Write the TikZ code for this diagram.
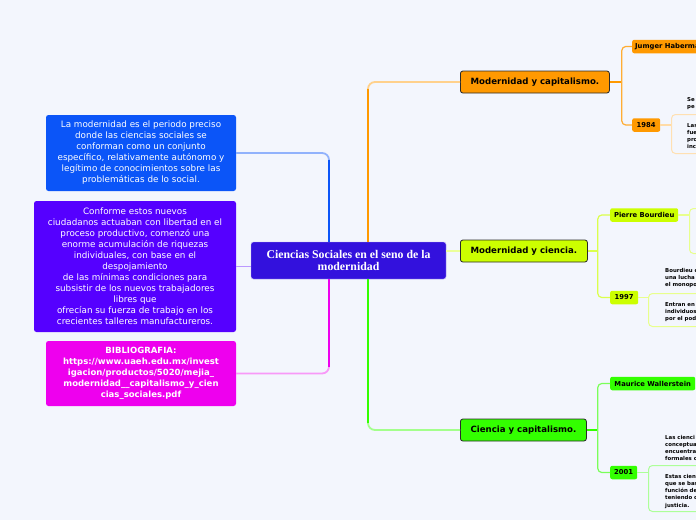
\documentclass[tikz,border=0pt]{standalone}
\usepackage{fontspec}
\setmainfont{DejaVu Sans}
\newfontfamily\titlefont{Liberation Serif}
\usepackage{tikz}
\usetikzlibrary{positioning}
\definecolor{paper}{HTML}{F3F6FD}
\definecolor{rootfill}{HTML}{3311DD}
\definecolor{bluefill}{HTML}{0B55F8}
\definecolor{violetfill}{HTML}{5500FF}
\definecolor{pinkfill}{HTML}{EE00EE}
\definecolor{orangefill}{HTML}{FF9900}
\definecolor{limefill}{HTML}{CCFF00}
\definecolor{greenfill}{HTML}{33FF00}
\definecolor{edgeink}{HTML}{2A2A2A}

\begin{document}
\begin{tikzpicture}[
  x=1pt,y=-1pt,
  root/.style={draw=rootfill!35,fill=rootfill,rounded corners=2.5pt,minimum width=195pt,minimum height=37pt,align=center,text=white,font=\titlefont\bfseries\fontsize{11.8}{11.5}\selectfont,inner sep=2pt},
  note/.style={fill=#1,rounded corners=2.5pt,align=center,text=white,font=\fontsize{8.8}{11}\selectfont,inner sep=2pt},
  topic/.style={draw=edgeink,line width=0.8pt,fill=#1,rounded corners=2.5pt,minimum height=22pt,anchor=west,font=\bfseries\fontsize{8.6}{10}\selectfont,inner xsep=4pt},
  sub/.style={fill=#1,rounded corners=2pt,minimum height=13.5pt,anchor=west,font=\bfseries\fontsize{6.8}{7}\selectfont,inner xsep=3pt},
  detail/.style={draw=#1,line width=1pt,rounded corners=4pt,anchor=north west},
  snippet/.style={anchor=north west,align=left,inner sep=0pt,font=\bfseries\fontsize{5.4}{7.2}\selectfont},
  conn/.style={draw=#1,line width=1.8pt,rounded corners=7pt},
  twig/.style={draw=#1,line width=1.2pt,rounded corners=4pt}
]
\useasboundingbox (0,0) rectangle (696,520);
\clip (0,0) rectangle (696,520);
\fill[paper] (0,0) rectangle (696,520);

% centre and the notes on the left
\node[root] (ctr) at (348.5,260.5) {Ciencias Sociales en el seno de la\\modernidad};
\node[note=bluefill,minimum width=190pt,minimum height=76pt] (nota) at (141,153) {La modernidad es el periodo preciso\\donde las ciencias sociales se\\conforman como un conjunto\\específico, relativamente autónomo y\\legítimo de conocimientos sobre las\\problemáticas de lo social.};
\node[note=violetfill,minimum width=202pt,minimum height=131pt] (notb) at (135,266.5) {Conforme estos nuevos\\ciudadanos actuaban con libertad en el\\proceso productivo, comenzó una\\enorme acumulación de riquezas\\individuales, con base en el\\despojamiento\\de las mínimas condiciones para\\subsistir de los nuevos trabajadores\\libres que\\ofrecían su fuerza de trabajo en los\\crecientes talleres manufactureros.};
\node[note=pinkfill,minimum width=190pt,minimum height=65pt,font=\bfseries\fontsize{8.5}{11}\selectfont] (biblio) at (141,373.5) {BIBLIOGRAFIA:\\https://www.uaeh.edu.mx/invest\\igacion/productos/5020/mejia\_\\modernidad\_\_capitalismo\_y\_cien\\cias\_sociales.pdf};

% main topics
\node[topic=orangefill,minimum width=149pt] (modcap) at (460,82) {Modernidad y capitalismo.};
\node[topic=limefill,minimum width=127pt] (modcien) at (460,251) {Modernidad y ciencia.};
\node[topic=greenfill,minimum width=126pt] (ciecap) at (460,430) {Ciencia y capitalismo.};

% subtopics
\node[sub=orangefill] (habermas) at (632,46.5) {Jumger Habermas};
\node[sub=orangefill,minimum width=28pt] (y1984) at (632,125) {1984};
\node[sub=limefill,minimum width=68pt] (bourdieu) at (610,215) {Pierre Bourdieu};
\node[sub=limefill,minimum width=28pt] (y1997) at (610,297.5) {1997};
\node[sub=greenfill,minimum width=85pt] (wallerstein) at (610,383.5) {Maurice Wallerstein};
\node[sub=greenfill,minimum width=27pt] (y2001) at (610,472.5) {2001};

% detail frames and their texts
\node[detail=orangefill!30,minimum width=60pt,minimum height=39pt] (d1984) at (671,114) {};
\node[detail=limefill!45,minimum width=40pt,minimum height=45pt] (dbourdieu) at (689,208) {};
\node[detail=limefill!45,minimum width=80pt,minimum height=33pt] (d1997) at (648,293) {};
\node[detail=greenfill!40,minimum width=80pt,minimum height=46pt] (d2001) at (648,465) {};
\node[snippet] (s1984a) at (687,97) {Se\\pe};
\node[snippet] (s1984b) at (687,123) {Las\\fue\\pro\\inc};
\node[snippet] (s1997a) at (665,268) {Bourdieu c\\una lucha\\el monopo};
\node[snippet] (s1997b) at (665,302) {Entran en\\individuos\\por el podi};
\node[snippet] (s2001a) at (665,435) {Las cienci\\conceptua\\encuentra\\formales c};
\node[snippet] (s2001b) at (665,474) {Estas cien-\\que se bas\\función de\\teniendo c\\justicia.};

% branches from the centre
\draw[conn=orangefill!45] ([xshift=19.5pt]ctr.north) |- (modcap.west);
\draw[conn=orangefill] ([xshift=19.5pt]ctr.north) -- ([xshift=19.5pt,yshift=-7pt]ctr.north |- modcap.west);
\draw[conn=bluefill!45] ([xshift=-19.5pt]ctr.north) |- (nota.east);
\draw[conn=bluefill] ([xshift=-19.5pt]ctr.north) -- ([xshift=-19.5pt,yshift=-7pt]ctr.north |- nota.east);
\draw[conn=violetfill!40] (ctr.west |- notb.east) -- (notb.east);
\draw[conn=pinkfill!40] ([xshift=-19.5pt]ctr.south) |- (biblio.east);
\draw[conn=pinkfill] ([xshift=-19.5pt]ctr.south) -- ([xshift=-19.5pt,yshift=7pt]ctr.south |- biblio.east);
\draw[conn=greenfill!45] ([xshift=19.5pt]ctr.south) |- (ciecap.west);
\draw[conn=greenfill] ([xshift=19.5pt]ctr.south) -- ([xshift=19.5pt,yshift=7pt]ctr.south |- ciecap.west);
\draw[conn=limefill!40] (ctr.east |- modcien.west) -- (modcien.west);

% twigs
\coordinate (capfork) at ([xshift=12pt]modcap.east);
\draw[twig=orangefill] (modcap.east) -- (capfork);
\draw[twig=orangefill!80] (capfork) |- (habermas.west);
\draw[twig=orangefill!80] (capfork) |- (y1984.west);
\draw[twig=orangefill!35] (y1984.east) -- (y1984.east -| d1984.west);
\coordinate (cienfork) at ([xshift=10pt]modcien.east);
\draw[twig=limefill!70] (modcien.east) -- (cienfork);
\draw[twig=limefill!70] (cienfork) |- (bourdieu.west);
\draw[twig=limefill!70] (cienfork) |- (y1997.west);
\draw[twig=limefill!45] (bourdieu.east) -- (bourdieu.east -| dbourdieu.west);
\draw[twig=limefill!45] (y1997.east) -- (y1997.east -| d1997.west);
\coordinate (capcfork) at ([xshift=11pt]ciecap.east);
\draw[twig=greenfill] (ciecap.east) -- (capcfork);
\draw[twig=greenfill!65] (capcfork) |- (wallerstein.west);
\draw[twig=greenfill!65] (capcfork) |- (y2001.west);
\draw[twig=greenfill!40] (y2001.east) -- (y2001.east -| d2001.west);
\end{tikzpicture}
\end{document}
